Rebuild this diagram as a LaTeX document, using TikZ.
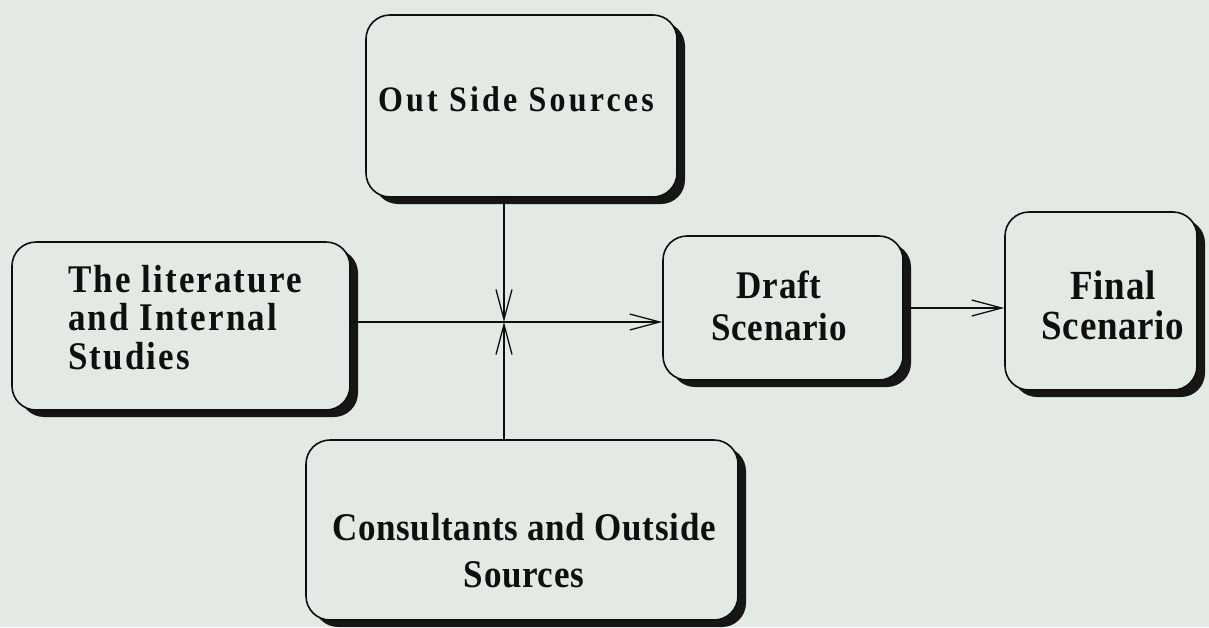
\documentclass[tikz,border=0pt]{standalone}
\usepackage{fontspec}
\usepackage{graphicx}
\setmainfont{Liberation Serif}
\usetikzlibrary{arrows.meta,shadows}
\definecolor{paper}{RGB}{226,234,227}
\definecolor{ink}{RGB}{15,15,15}
\newfontfamily\labelfont{Liberation Serif Bold}[LetterSpace=2]
\newfontfamily\widelabelfont{Liberation Serif Bold}[LetterSpace=10]
\newfontfamily\looselabelfont{Liberation Serif Bold}[LetterSpace=6]
% tall, narrow lettering: a tabular stretched vertically
\newcommand\tallbox[2]{\scalebox{1}[1.12]{\begin{tabular}{@{}#1@{}}#2\end{tabular}}}
\tikzset{
  card/.style={draw=ink, line width=1.6pt, rounded corners=24pt, fill=paper,
    drop shadow={shadow xshift=8pt, shadow yshift=-7pt, fill=black, opacity=0.9},
    inner sep=0pt},
  caption/.style={inner sep=0pt, text=ink},
  link/.style={draw=ink, line width=1.3pt,
    -{Straight Barb[length=30pt,width=16pt,line width=1.3pt]}},
}
\begin{document}
\begin{tikzpicture}[x=1pt,y=-1pt]
  \fill[paper] (0,0) rectangle (1209,627);
  \useasboundingbox (0,0) rectangle (1209,627);

  % the five boxes
  \node[card, minimum width=311pt, minimum height=182pt] (out)   at (521.5,106) {};
  \node[card, minimum width=338pt, minimum height=168pt] (lit)   at (181,326)   {};
  \node[card, minimum width=432pt, minimum height=180pt] (cons)  at (522,530)   {};
  \node[card, minimum width=240pt, minimum height=144pt] (draft) at (783,308)   {};
  \node[card, minimum width=192pt, minimum height=178pt] (final) at (1101,301)  {};

  % their captions
  \node[caption, font=\widelabelfont\fontsize{32}{36}\selectfont]
        (outText) at (516,103) {\tallbox{c}{Out Side Sources}};
  \node[caption, font=\looselabelfont\fontsize{35}{34}\selectfont]
        (litText) at (185,323) {\tallbox{l}{The literature\\and Internal\\Studies}};
  \node[caption, font=\labelfont\fontsize{35}{42}\selectfont]
        (consText) at (524,555) {\tallbox{c}{Consultants and Outside\\Sources}};
  \node[caption, font=\labelfont\fontsize{35}{37.5}\selectfont]
        (draftText) at (779,311) {\tallbox{c}{Draft\\Scenario}};
  \node[caption, font=\labelfont\fontsize{37}{35}\selectfont]
        (finalText) at (1113,311) {\tallbox{c}{Final\\Scenario}};

  % meeting point of the three inputs
  \coordinate (hub) at (504,322);

  \draw[link] (out.south -| hub) -- (hub);
  \draw[link] (cons.north -| hub) -- (hub);
  \draw[link] (lit.east |- hub) -- (draft.west |- hub);
  \draw[link] (draft.east) -- (final.west |- draft.east);
\end{tikzpicture}
\end{document}
